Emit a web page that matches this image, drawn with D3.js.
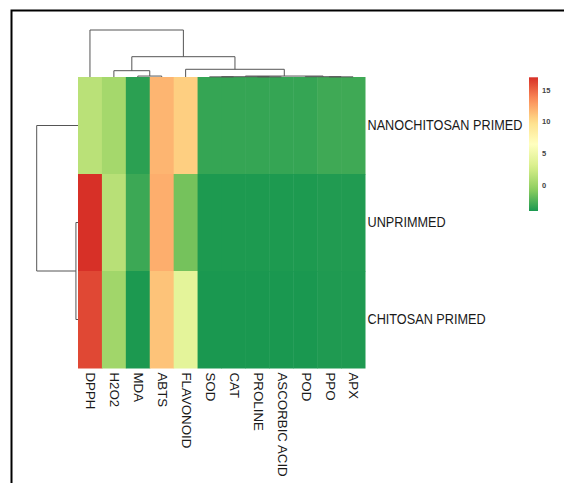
<!DOCTYPE html>
<html><head><meta charset="utf-8">
<script src="https://cdn.jsdelivr.net/npm/d3@7"></script>
<style>
html,body{margin:0;padding:0;background:#fff;}
svg{display:block;}
text{font-family:"Liberation Sans",Arial,Helvetica,sans-serif;}
</style></head>
<body>
<svg id="chart" width="564" height="483"></svg>
<script>
// ---- data ----
const columns = ["DPPH","H2O2","MDA","ABTS","FLAVONOID","SOD","CAT","PROLINE","ASCORBIC ACID","POD","PPO","APX"];
const rows = ["NANOCHITOSAN PRIMED","UNPRIMMED","CHITOSAN PRIMED"];
const nanochitosanValues = [1.4, 0.4, -3.6, 11.8, 10.7, -3.3, -3.3, -3.3, -3.3, -3.3, -3.0, -3.0];
const unprimedValues     = [17.0, 1.3, -3.1, 12.1, -1.4, -4.0, -4.0, -4.0, -4.0, -4.0, -3.9, -3.9];
const chitosanValues     = [16.1, 0.2, -4.05, 11.2, 3.95, -4.1, -4.1, -4.1, -4.1, -4.1, -3.95, -3.95];
const legendTicks = [0, 5, 10, 15];
// hclust-style merges: negative = leaf (-(index+1)), positive = earlier merge (1-based); third = height
const colMerge = [
  [-3, -4, 0.2],
  [-2, 1, 1.34],
  [-6, -7, 0.03],
  [-8, -9, 0.03],
  [3, 4, 0.06],
  [-11, -12, 0.03],
  [-10, 6, 0.06],
  [5, 7, 0.2],
  [-5, 8, 1.64],
  [2, 9, 4.32],
  [-1, 10, 10]
];
const rowMerge = [
  [-2, -3, 0.05],
  [-1, 1, 1]
];
const palette = ["#1A9850","#91CF60","#D9EF8B","#FFFFBF","#FEE08B","#FC8D59","#D73027"];

// ---- layout ----
const svg = d3.select("#chart");
const hm = {x: 78, y: 77, w: 287, h: 291};
const matrix = [nanochitosanValues, unprimedValues, chitosanValues];

// frame
svg.append("rect").attr("x", 11.5).attr("y", 10.5).attr("width", 700).attr("height", 700)
  .attr("fill", "none").attr("stroke", "#000").attr("stroke-width", 2);

const x = d3.scaleBand().domain(columns).range([hm.x, hm.x + hm.w]);
const y = d3.scaleBand().domain(rows).range([hm.y, hm.y + hm.h]);
const all = matrix.flat();
const ext = d3.extent(all);
const color = d3.scaleLinear()
  .domain(d3.range(palette.length).map(i => ext[0] + i * (ext[1] - ext[0]) / (palette.length - 1)))
  .range(palette).interpolate(d3.interpolateRgb);

// cells
const cells = [];
rows.forEach((r, i) => columns.forEach((c, j) => cells.push({r, c, v: matrix[i][j]})));
svg.append("g").selectAll("rect").data(cells).join("rect")
  .attr("x", d => x(d.c)).attr("y", d => y(d.r))
  .attr("width", x.bandwidth() + 0.5).attr("height", y.bandwidth() + 0.5)
  .attr("fill", d => color(d.v));

// dendrogram helper
function drawDendro(merge, leafPos, heightScale, orient) {
  const pos = [], hgt = [];
  const get = k => k < 0 ? {p: leafPos(-k - 1), h: 0} : {p: pos[k - 1], h: hgt[k - 1]};
  const g = svg.append("g").attr("fill", "none").attr("stroke", "#555").attr("stroke-width", 1);
  merge.forEach(([a, b, h], i) => {
    const A = get(a), B = get(b);
    pos[i] = (A.p + B.p) / 2; hgt[i] = h;
    const H = heightScale(h), Ha = heightScale(A.h), Hb = heightScale(B.h);
    let d;
    if (orient === "top") d = `M${A.p},${Ha}V${H}H${B.p}V${Hb}`;
    else d = `M${Ha},${A.p}H${H}V${B.p}H${Hb}`;
    g.append("path").attr("d", d);
  });
}
const colH = d3.scaleLinear().domain([0, 10]).range([hm.y, 30]);
drawDendro(colMerge, i => x(columns[i]) + x.bandwidth() / 2, colH, "top");
const rowH = d3.scaleLinear().domain([0, 1]).range([hm.x, 36.7]);
drawDendro(rowMerge, i => y(rows[i]) + y.bandwidth() / 2, rowH, "left");

// row labels
svg.append("g").selectAll("text").data(rows).join("text")
  .attr("transform", d => `translate(${hm.x + hm.w + 2.5},${y(d) + y.bandwidth() / 2}) scale(0.92,1)`)
  .attr("dy", "0.36em").attr("font-size", 13.8).attr("fill", "#1a1a1a")
  .text(d => d);

// column labels
svg.append("g").selectAll("text").data(columns).join("text")
  .attr("transform", d => `translate(${x(d) + x.bandwidth() / 2 + 1},${hm.y + hm.h + 4.5}) rotate(90) scale(1,0.95)`)
  .attr("dy", "0.36em").attr("font-size", 13.3).attr("fill", "#1a1a1a")
  .text(d => d);

// colour legend
const lg = {x: 529, w: 9, top: 77.3, bottom: 211};
const ly = d3.scaleLinear().domain(ext).range([lg.bottom, lg.top]);
const defs = svg.append("defs");
const grad = defs.append("linearGradient").attr("id", "lgGrad")
  .attr("x1", 0).attr("y1", 1).attr("x2", 0).attr("y2", 0);
d3.range(0, 1.0001, 0.05).forEach(t => {
  grad.append("stop").attr("offset", t).attr("stop-color", color(ext[0] + t * (ext[1] - ext[0])));
});
svg.append("rect").attr("x", lg.x).attr("y", lg.top).attr("width", lg.w).attr("height", lg.bottom - lg.top)
  .attr("fill", "url(#lgGrad)");
svg.append("g").selectAll("text").data(legendTicks).join("text")
  .attr("x", lg.x + lg.w + 4).attr("y", d => ly(d)).attr("dy", "0.35em")
  .attr("font-size", 7.5).attr("font-weight", "bold").attr("fill", "#444")
  .text(d => d);
</script>
</body></html>
